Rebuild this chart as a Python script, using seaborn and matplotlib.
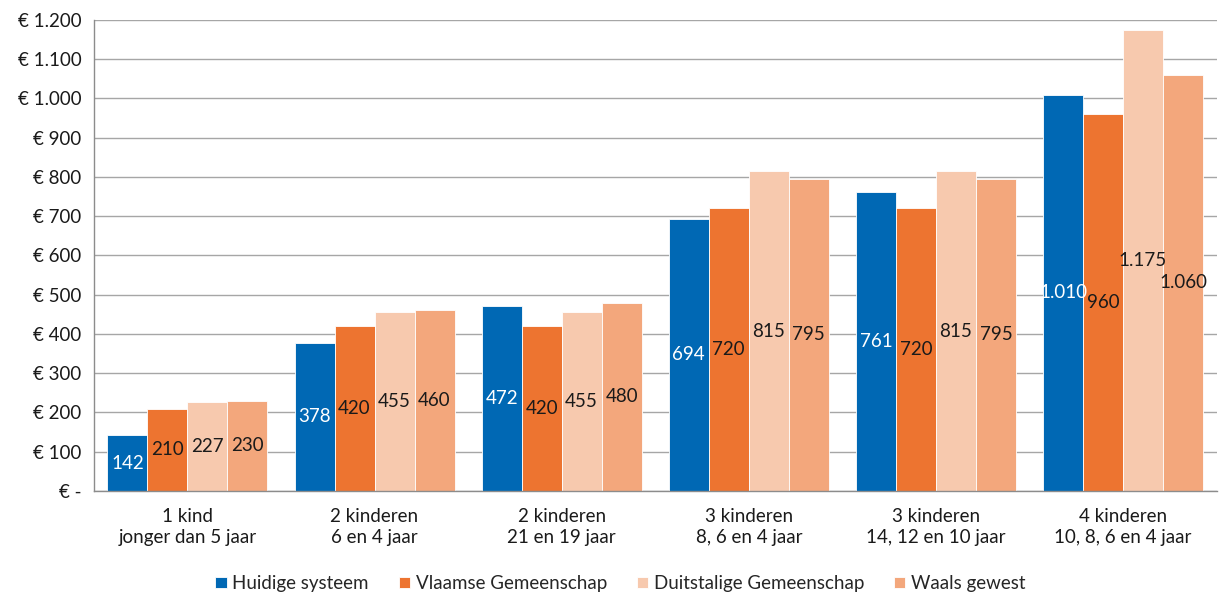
import pandas as pd
import seaborn as sns
import matplotlib.pyplot as plt
from matplotlib.ticker import FixedLocator, FuncFormatter

# --- Data ---
categories = [
    "1 kind\njonger dan 5 jaar",
    "2 kinderen\n6 en 4 jaar",
    "2 kinderen\n21 en 19 jaar",
    "3 kinderen\n8, 6 en 4 jaar",
    "3 kinderen\n14, 12 en 10 jaar",
    "4 kinderen\n10, 8, 6 en 4 jaar",
]
series = ["Huidige systeem", "Vlaamse Gemeenschap", "Duitstalige Gemeenschap", "Waals gewest"]
huidige = [142, 378, 472, 694, 761, 1010]
vlaamse = [210, 420, 420, 720, 720, 960]
duitstalige = [227, 455, 455, 815, 815, 1175]
waals = [230, 460, 480, 795, 795, 1060]
y_ticks = list(range(0, 1201, 100))

colors = ["#0068B4", "#ED7430", "#F7C9AE", "#F3A77C"]
label_colors = ["white", "#1a1a1a", "#1a1a1a", "#1a1a1a"]

rows = []
for name, vals in zip(series, [huidige, vlaamse, duitstalige, waals]):
    for cat, v in zip(categories, vals):
        rows.append({"categorie": cat, "reeks": name, "bedrag": v})
df = pd.DataFrame(rows)

sns.set_theme(style="white")
plt.rcParams["font.family"] = ["Lato", "DejaVu Sans"]

fig = plt.figure(figsize=(12.19, 5.97), dpi=100)
ax = fig.add_axes([0.077, 0.1776, 0.921, 0.789])

sns.barplot(
    data=df, x="categorie", y="bedrag", hue="reeks",
    palette=colors, width=0.855, gap=0, saturation=1,
    edgecolor="white", linewidth=0.6, ax=ax, legend=True,
)

def fmt_num(v):
    return f"{v:,.0f}".replace(",", ".")

for cont, lc in zip(ax.containers, label_colors):
    ax.bar_label(cont, labels=[fmt_num(b.get_height()) for b in cont],
                 label_type="center", color=lc, fontsize=13.5)

ax.set_ylim(0, 1200)
ax.set_xlim(-0.5, len(categories) - 0.5)
ax.yaxis.set_major_locator(FixedLocator(y_ticks))
ax.yaxis.set_major_formatter(FuncFormatter(lambda v, p: "€ -" if v == 0 else "€ " + fmt_num(v)))
ax.grid(axis="y", color="#A6A6A6", linewidth=1)
ax.set_axisbelow(True)

for s in ["top", "right"]:
    ax.spines[s].set_visible(False)
for s in ["left", "bottom"]:
    ax.spines[s].set_color("#8C8C8C")
    ax.spines[s].set_linewidth(1)

# category boundary ticks on x-axis
ax.set_xticks(range(len(categories)))
ax.set_xticklabels(categories, fontsize=13.5, color="#1a1a1a", linespacing=1.3)
ax.xaxis.set_minor_locator(FixedLocator([i - 0.5 for i in range(len(categories) + 1)]))
ax.tick_params(axis="x", which="major", length=0, pad=12)
ax.tick_params(axis="x", which="minor", length=6, color="#8C8C8C", width=1, direction="out")
ax.tick_params(axis="y", length=5, color="#8C8C8C", width=1, direction="out", labelsize=13.5,
               labelcolor="#1a1a1a", pad=4)
ax.set_xlabel("")
ax.set_ylabel("")

handles, labels = ax.get_legend_handles_labels()
ax.get_legend().remove()
fig.legend(handles, labels, loc="lower center", bbox_to_anchor=(0.509, -0.02),
           ncol=4, frameon=False, fontsize=13.5, handlelength=0.6, handleheight=0.6,
           handletextpad=0.3, columnspacing=1.6)

fig.savefig("out.png", dpi=100)
